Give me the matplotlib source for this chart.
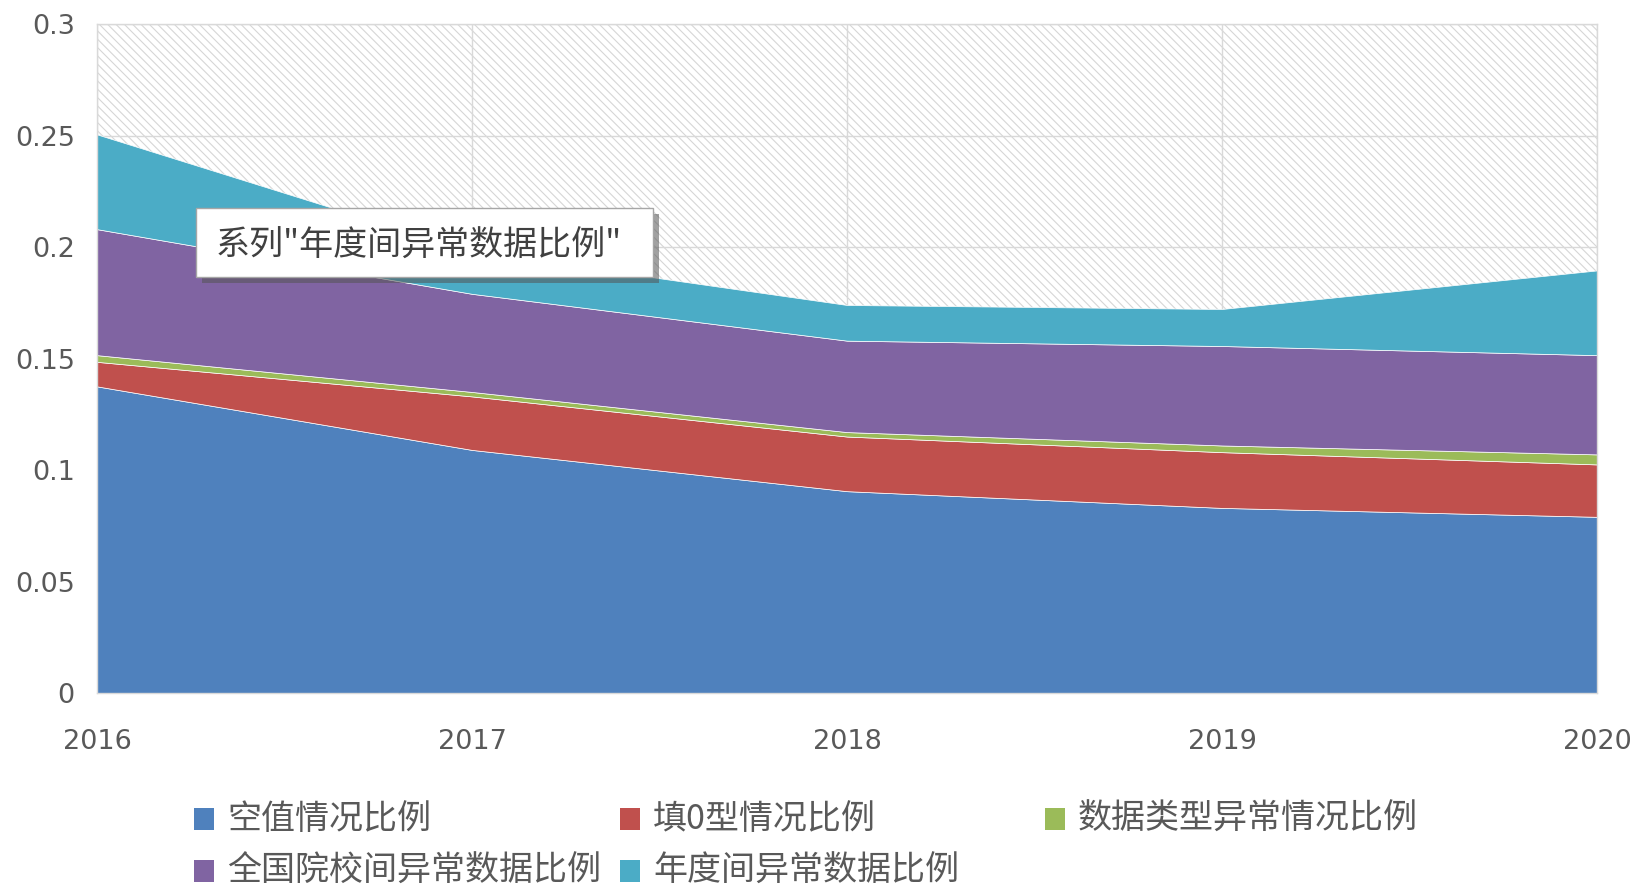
import matplotlib
matplotlib.use("Agg")
import matplotlib.pyplot as plt
from matplotlib.patches import Rectangle

plt.rcParams['font.family'] = ['Noto Sans CJK SC', 'DejaVu Sans']
plt.rcParams['hatch.linewidth'] = 0.8

# ---- data ----
years = [2016, 2017, 2018, 2019, 2020]
null_ratio = [0.1375, 0.109, 0.0905, 0.083, 0.079]
zero_fill = [0.011, 0.024, 0.0245, 0.025, 0.0235]
type_err = [0.003, 0.002, 0.002, 0.003, 0.0045]
inter_school = [0.0565, 0.044, 0.041, 0.0446, 0.0445]
inter_year = [0.0425, 0.019, 0.016, 0.0166, 0.038]

series_names = ['空值情况比例', '填0型情况比例', '数据类型异常情况比例',
                '全国院校间异常数据比例', '年度间异常数据比例']
colors = ['#4F81BD', '#C0504D', '#9BBB59', '#8064A2', '#4BACC6']
yticks = [0, 0.05, 0.1, 0.15, 0.2, 0.25, 0.3]
ytick_labels = ['0', '0.05', '0.1', '0.15', '0.2', '0.25', '0.3']
tooltip_text = '系列"年度间异常数据比例"'

W, H = 1634, 888
fig = plt.figure(figsize=(W / 100, H / 100), dpi=100)
ax_l, ax_r, ax_t, ax_b = 97, 1597, 24, 693
ax = fig.add_axes([ax_l / W, 1 - ax_b / H, (ax_r - ax_l) / W, (ax_b - ax_t) / H])

# hatched background
ax.add_patch(Rectangle((0, 0), 1, 1, transform=ax.transAxes, facecolor='white',
                       edgecolor='#d6d6d6', hatch='\\\\\\\\', linewidth=0, zorder=0.2))

ax.stackplot(years, null_ratio, zero_fill, type_err, inter_school, inter_year,
             colors=colors, edgecolor='white', linewidth=0.5, zorder=1)

ax.set_xlim(2016, 2020)
ax.set_ylim(0, 0.3)
ax.set_xticks(years)
ax.set_xticklabels([str(y) for y in years])
ax.set_yticks(yticks)
ax.set_yticklabels(ytick_labels)
ax.set_axisbelow(True)
ax.grid(True, color='#d9d9d9', linewidth=1.0, zorder=0.5)
for s in ax.spines.values():
    s.set_color('#d9d9d9')
    s.set_linewidth(1.0)
ax.tick_params(length=0, colors='#595959', labelsize=19.5)
ax.tick_params(axis='y', pad=16)
ax.tick_params(axis='x', pad=26)
for lab in ax.get_xticklabels() + ax.get_yticklabels():
    lab.set_family('DejaVu Sans')

# tooltip box
pw, ph = ax_r - ax_l, ax_b - ax_t
bx0, bx1, by0, by1 = 196, 653, 208, 277
fx = lambda px: (px - ax_l) / pw
fy = lambda py: 1 - (py - ax_t) / ph
ax.add_patch(Rectangle((fx(bx0 + 6), fy(by1 + 6)), fx(bx1) - fx(bx0), fy(by0) - fy(by1),
                       transform=ax.transAxes, facecolor='#555555', alpha=0.55,
                       edgecolor='none', zorder=5, clip_on=False))
ax.add_patch(Rectangle((fx(bx0), fy(by1)), fx(bx1) - fx(bx0), fy(by0) - fy(by1),
                       transform=ax.transAxes, facecolor='white',
                       edgecolor='#a6a6a6', linewidth=1.0, zorder=6, clip_on=False))
ax.text(fx(216), fy(246), tooltip_text, transform=ax.transAxes, ha='left', va='center',
        fontsize=24.5, color='#404040', zorder=7)

# legend (row-major, 3 columns)
col_x = [194, 620, 1045]
row_y = [819, 871]
mw, mh = 20, 22
for i, (name, c) in enumerate(zip(series_names, colors)):
    r, k = divmod(i, 3)
    x0 = col_x[k]
    yc = row_y[r]
    fig.patches.append(Rectangle((x0 / W, 1 - (yc + mh / 2) / H), mw / W, mh / H,
                                 transform=fig.transFigure, facecolor=c,
                                 edgecolor='none', figure=fig))
    fig.text((x0 + 33) / W, 1 - yc / H, name, ha='left', va='center',
             fontsize=24.5, color='#595959')

fig.savefig('out.png', dpi=100)
